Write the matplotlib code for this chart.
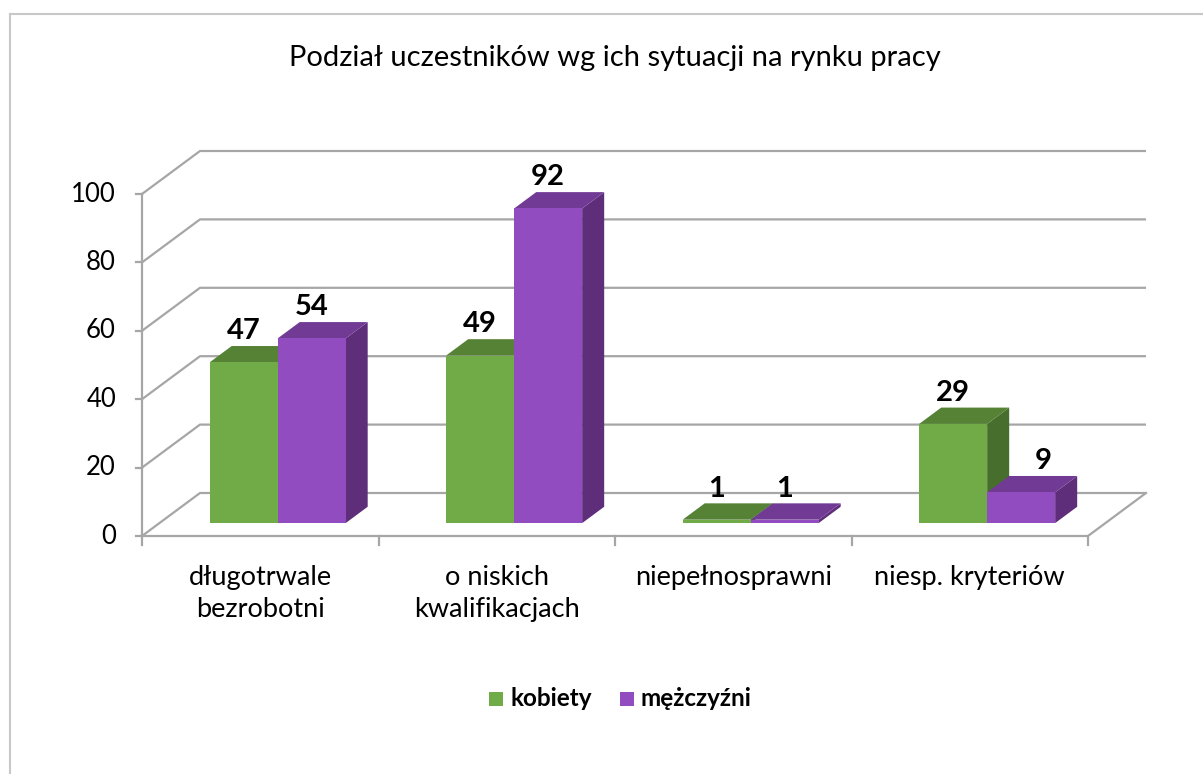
import matplotlib.pyplot as plt
from matplotlib.patches import Polygon, Rectangle
from matplotlib.lines import Line2D

# dane z wykresu
kategorie = ["długotrwale\nbezrobotni", "o niskich\nkwalifikacjach", "niepełnosprawni", "niesp. kryteriów"]
kobiety = [47, 49, 1, 29]
mezczyzni = [54, 92, 1, 9]
serie = ["kobiety", "mężczyźni"]
y_ticks = [0, 20, 40, 60, 80, 100]

# kolory: przód, góra, bok
kolory = [
    ("#70AB47", "#568236", "#476E2C"),
    ("#914DBF", "#713A95", "#5E2E7B"),
]
kolor_siatki = "#A6A6A6"

plt.rcParams['font.family'] = ['Lato', 'DejaVu Sans']

W, H = 1203, 774
fig = plt.figure(figsize=(W / 100, H / 100), dpi=100)

# obszar osi w pikselach (lewy, prawy, góra, dół)
px_l, px_r, px_t, px_b = 100, 1180, 120, 570
ax = fig.add_axes([px_l / W, 1 - px_b / H, (px_r - px_l) / W, (px_b - px_t) / H])
# skala: x0 = 142 px, 236.5 px na kategorię; y0 = 536 px, 3.42 px na jednostkę
sx, sy = 236.5, 3.42
ax.set_xlim((px_l - 142) / sx, (px_r - 142) / sx)
ax.set_ylim((536 - px_b) / sy, (536 - px_t) / sy)
ax.axis("off")

# wektor głębi (perspektywa)
Dx, Dy = 58 / sx, 43 / sy
n = len(kategorie)

# ściana tylna - linie siatki
for v in y_ticks:
    ax.plot([0, Dx, n + Dx], [v, v + Dy, v + Dy], color=kolor_siatki, lw=1.6, solid_capstyle="butt", zorder=1)
# oś pionowa i podłoga
ax.plot([0, 0], [0, y_ticks[-1]], color=kolor_siatki, lw=1.6, zorder=1)
ax.plot([0, n, n + Dx], [0, 0, Dy], color=kolor_siatki, lw=1.6, zorder=1)
for v in y_ticks:
    ax.plot([-0.025, 0], [v, v], color=kolor_siatki, lw=1.6, zorder=1)
    ax.text(-0.11, v, str(v), ha="right", va="center", fontsize=18.5, color="#000000")
for i in range(n + 1):
    ax.plot([i, i], [0, -2.6], color=kolor_siatki, lw=1.6, zorder=1)

# słupki 3D
f0, f1 = 0.30, 0.68
bw = 0.2875
ddx, ddy = (f1 - f0) * Dx, (f1 - f0) * Dy
for i in range(n):
    wartosci = [kobiety[i], mezczyzni[i]]
    for s, wart in enumerate(wartosci):
        front, top, side = kolory[s]
        x0 = i + 0.5 - bw + s * bw + f0 * Dx
        x1 = x0 + bw
        y0 = f0 * Dy
        y1 = y0 + wart
        z = 3 + i * 2 + s
        ax.add_patch(Polygon([(x1, y0), (x1 + ddx, y0 + ddy), (x1 + ddx, y1 + ddy), (x1, y1)],
                             closed=True, facecolor=side, edgecolor="none", zorder=z))
        ax.add_patch(Polygon([(x0, y1), (x1, y1), (x1 + ddx, y1 + ddy), (x0 + ddx, y1 + ddy)],
                             closed=True, facecolor=top, edgecolor="none", zorder=z))
        ax.add_patch(Rectangle((x0, y0), bw, wart, facecolor=front, edgecolor="none", zorder=z))
        # etykieta przesunięta w prawo, gdy zasłania ją wyższy słupek obok
        lx = (x0 + x1) / 2
        if s > 0 and wartosci[s - 1] > wart + 5:
            lx += ddx
        ax.text(lx, y1 + ddy + 0.5, str(wart), ha="center", va="bottom",
                fontsize=21, fontweight="bold", color="#000000", zorder=20)

# etykiety kategorii
for i, kat in enumerate(kategorie):
    ax.text(i + 0.5, -8.6, kat, ha="center", va="top", fontsize=19.5, linespacing=1.33)

# tytuł
fig.text(615 / W, 1 - 58 / H, "Podział uczestników wg ich sytuacji na rynku pracy",
         ha="center", va="center", fontsize=21)

# legenda
leg_items = [(489, serie[0], kolory[0][0]), (620, serie[1], kolory[1][0])]
for xp, txt, c in leg_items:
    fig.patches.append(Rectangle((xp / W, 1 - 706 / H), 14 / W, 14 / H, transform=fig.transFigure,
                                 facecolor=c, edgecolor="none"))
    fig.text((xp + 21) / W, 1 - 698 / H, txt, ha="left", va="center", fontsize=17.5, fontweight="bold")

# ramka wykresu (widoczna góra i lewa krawędź)
fig.lines.append(Line2D([10 / W, 1], [1 - 14 / H, 1 - 14 / H], transform=fig.transFigure, color="#C8C8C8", lw=1.5))
fig.lines.append(Line2D([10 / W, 10 / W], [0, 1 - 14 / H], transform=fig.transFigure, color="#C8C8C8", lw=1.5))

fig.savefig("out.png", dpi=100)
